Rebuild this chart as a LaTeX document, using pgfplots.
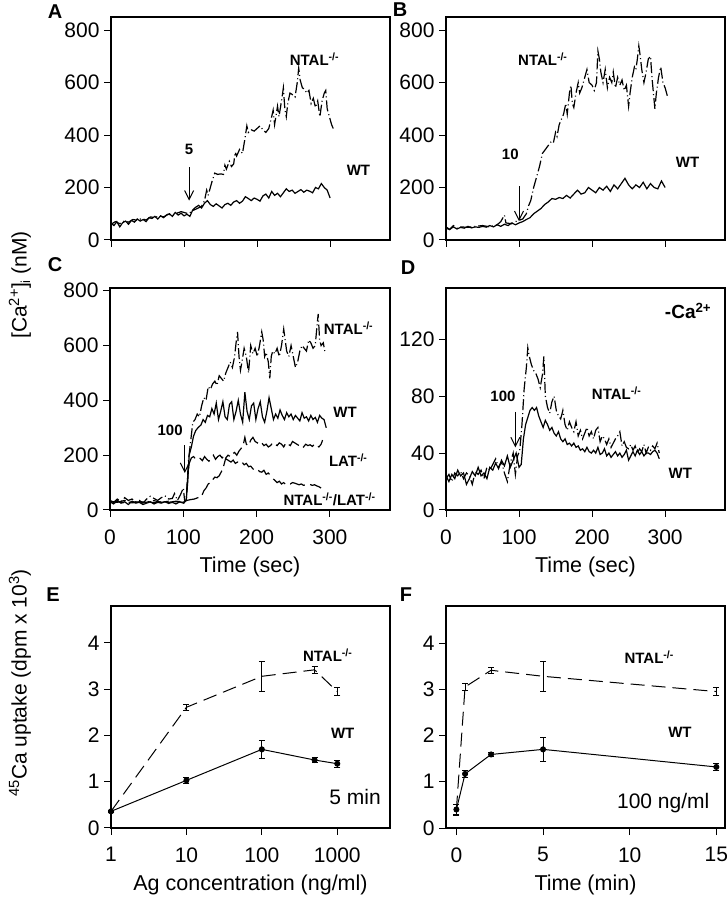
\documentclass[border=0pt]{standalone}
\usepackage{fontspec}
\setmainfont{Liberation Sans}
\usepackage{pgfplots}
\pgfplotsset{compat=1.18}
\usetikzlibrary{arrows.meta}

\pgfplotsset{
  panel/.style={
    scale only axis, anchor=south west,
    width=279pt, height=222pt,
    axis line style={line width=1.2pt},
    every tick/.style={line width=1pt, black},
    tick align=outside, major tick length=7pt, minor tick length=0pt,
    xtick pos=bottom, ytick pos=left,
    ticklabel style={font=\fontsize{21}{24}\selectfont},
    xticklabel style={yshift=-9pt},
    yticklabel style={xshift=-1pt},
    label style={font=\fontsize{21.5}{25}\selectfont},
    xlabel style={yshift=-6pt},
    /pgf/number format/assume math mode=true,
    clip=false,
  },
  wt/.style={black, line width=1.2pt, solid},
  ko/.style={black, line width=1.2pt, dash pattern=on 11pt off 3pt on 1pt off 3pt},
}
\newcommand{\lbl}{\bfseries\fontsize{15}{18}\selectfont}
\newcommand{\ko}{NTAL\textsuperscript{-/-}}

\begin{document}
\begin{tikzpicture}[x=1pt,y=1pt]
\useasboundingbox (0,0) rectangle (726,899);

% ---------- A ----------
\begin{axis}[panel, at={(111pt,659pt)}, height=223pt,
  xmin=0, xmax=382, ymin=0, ymax=850,
  xtick={0,100,200,300}, xticklabels={}, ytick={0,200,...,800}]
\addplot[ko] coordinates {
(0,60) (6,70) (12,62) (18,72) (24,68) (30,78) (36,75) (42,82) (48,76) (54,88) (60,85) (66,92)
(72,88) (78,98) (84,95) (90,102) (96,108) (100,105) (106,100) (112,112) (118,120) (124,128)
(128,150) (131,190) (133,170) (138,220) (142,255) (146,250) (150,252) (154,250) (156,285)
(158,270) (162,300) (165,280) (168,290) (170,335) (172,320) (176,345) (180,330) (183,380)
(186,435) (188,410) (192,420) (196,415) (200,425) (204,435) (208,420) (212,410) (216,425)
(220,470) (222,495) (224,440) (228,510) (230,470) (234,540) (236,580) (238,500) (240,470)
(242,520) (245,560) (248,555) (252,545) (255,600) (257,655) (259,610) (262,580) (265,575)
(268,560) (271,570) (274,520) (277,540) (280,505) (283,530) (286,470) (289,530) (292,560)
(294,570) (296,500) (298,480) (302,440) (305,420)};
\addplot[wt] coordinates {
(0,64) (4,55) (8,70) (12,50) (16,66) (20,72) (24,60) (28,75) (32,68) (36,80) (40,72) (44,78)
(48,70) (52,85) (56,82) (60,90) (64,80) (68,92) (72,85) (76,95) (80,100) (84,90) (88,105)
(92,95) (96,102) (100,92) (104,98) (108,90) (112,115) (116,125) (120,132) (124,122) (128,140)
(132,150) (136,135) (140,128) (144,138) (148,130) (152,122) (156,135) (160,140) (164,132)
(168,145) (172,150) (176,140) (180,148) (184,165) (188,158) (192,150) (196,160) (200,155)
(204,148) (208,168) (212,175) (216,160) (220,185) (224,170) (228,178) (232,165) (236,180)
(240,195) (244,185) (248,190) (252,178) (256,185) (260,192) (264,182) (268,190) (272,186)
(276,180) (280,200) (284,195) (288,215) (292,200) (296,190) (300,160)};
\draw[line width=1pt, -{Straight Barb[length=9pt,width=9pt]}] (axis cs:107,278) -- (axis cs:107,150);
\node[font=\lbl] at (axis cs:107,345) {5};
\node[font=\lbl, anchor=west] at (axis cs:240,690) {\ko};
\node[font=\lbl, anchor=west] at (axis cs:318,267) {WT};
\end{axis}

% ---------- B ----------
\begin{axis}[panel, at={(446pt,659pt)}, height=223pt,
  xmin=0, xmax=382, ymin=0, ymax=850,
  xtick={0,100,200,300}, xticklabels={}, ytick={0,200,...,800}]
\addplot[ko] coordinates {
(0,50) (5,40) (10,55) (15,45) (20,50) (30,48) (40,52) (50,55) (60,50) (70,58) (75,70) (80,95)
(82,65) (90,62) (95,70) (100,75) (105,80) (110,100) (113,130) (116,150) (120,200) (124,240)
(128,280) (132,330) (136,345) (140,360) (144,375) (147,370) (150,410) (152,395) (155,440)
(158,460) (161,480) (164,520) (166,480) (169,560) (171,590) (173,520) (175,505) (178,560)
(181,600) (183,560) (186,580) (190,620) (193,650) (196,600) (200,590) (203,570) (206,600)
(208,720) (210,690) (212,640) (215,600) (218,650) (221,580) (224,620) (227,600) (229,640)
(232,580) (235,620) (238,590) (241,610) (244,570) (247,590) (250,510) (252,560) (255,620)
(258,660) (260,650) (262,690) (264,740) (266,700) (268,650) (271,600) (274,640) (277,690)
(280,700) (282,620) (284,560) (286,500) (288,560) (291,620) (294,660) (297,600) (300,580) (303,550)};
\addplot[wt] coordinates {
(0,45) (5,40) (10,50) (15,42) (20,48) (25,45) (30,52) (35,46) (40,50) (45,48) (50,52) (55,49)
(60,55) (65,50) (70,58) (75,52) (80,60) (85,55) (90,65) (95,58) (100,65) (105,70) (110,78)
(115,85) (120,100) (125,110) (130,120) (135,135) (140,145) (145,158) (150,155) (155,162)
(160,158) (165,170) (170,160) (175,175) (180,190) (185,175) (190,180) (195,200) (200,190)
(205,180) (210,200) (215,190) (220,205) (225,185) (230,210) (235,195) (240,215) (245,235)
(250,210) (255,195) (260,210) (265,200) (270,220) (275,195) (280,215) (285,200) (290,195)
(295,225) (300,200)};
\draw[line width=1pt, -{Straight Barb[length=9pt,width=9pt]}] (axis cs:100,205) -- (axis cs:100,72);
\node[font=\lbl] at (axis cs:88,325) {10};
\node[font=\lbl, anchor=west] at (axis cs:94,690) {\ko};
\node[font=\lbl, anchor=west] at (axis cs:310,295) {WT};
\end{axis}

% ---------- C ----------
\begin{axis}[panel, at={(110pt,389pt)}, width=280pt,
  xmin=0, xmax=382, ymin=0, ymax=810,
  xtick={0,100,200,300}, ytick={0,200,...,800},
  xlabel={Time (sec)}]
\addplot[ko] coordinates {
(0,35) (5,28) (10,40) (15,30) (20,45) (25,35) (30,40) (35,30) (40,35) (45,25) (50,40) (55,50)
(60,42) (65,35) (70,45) (75,52) (80,40) (85,42) (88,60) (92,35) (96,55) (100,80) (102,30)
(104,40) (107,180) (110,250) (113,320) (116,330) (119,350) (122,340) (125,380) (128,410)
(131,400) (134,450) (137,440) (140,460) (143,470) (146,455) (149,490) (152,480) (155,470)
(158,500) (161,520) (164,540) (167,520) (170,560) (172,610) (174,650) (176,560) (178,510)
(180,540) (183,590) (186,560) (189,500) (192,600) (195,570) (198,590) (201,560) (204,600)
(207,650) (209,620) (211,560) (213,575) (216,540) (218,480) (220,560) (222,580) (225,570)
(228,590) (231,560) (234,600) (237,660) (239,620) (241,580) (244,560) (247,600) (250,560)
(253,520) (256,540) (259,580) (262,600) (265,590) (268,580) (271,620) (274,610) (277,590)
(280,600) (282,660) (284,715) (286,620) (288,600) (291,610) (293,580)};
\addplot[ko, dash pattern=on 14pt off 5pt] coordinates {
(0,28) (10,32) (20,25) (30,30) (40,28) (50,32) (60,26) (70,30) (80,28) (90,32) (100,30)
(105,35) (110,38) (115,40) (120,45) (125,50) (128,70) (131,80) (134,95) (137,100) (140,110)
(143,120) (146,118) (149,125) (152,140) (155,160) (158,190) (161,200) (164,195) (167,205)
(170,210) (173,200) (176,215) (179,225) (182,240) (184,265) (186,240) (189,235) (192,255)
(195,265) (198,250) (201,245) (204,240) (207,245) (210,235) (213,240) (216,230) (219,235)
(222,245) (225,240) (228,235) (231,245) (234,240) (237,230) (240,245) (243,240) (246,235)
(249,250) (252,245) (255,240) (258,235) (261,238) (264,230) (267,240) (270,235) (273,238)
(276,232) (279,240) (282,235) (285,230) (288,240) (290,255)};
\addplot[ko, dash pattern=on 16pt off 6pt] coordinates {
(0,32) (10,28) (20,35) (30,26) (40,30) (50,28) (60,34) (70,28) (80,32) (90,30) (100,28)
(104,35) (106,120) (108,170) (111,190) (114,195) (117,185) (120,192) (123,188) (126,180)
(129,195) (132,185) (135,178) (138,190) (141,200) (144,185) (147,195) (150,200) (153,190)
(156,200) (159,185) (162,180) (165,175) (168,182) (171,170) (174,175) (177,168) (180,175)
(183,165) (186,170) (189,158) (192,160) (195,150) (198,145) (201,150) (204,140) (207,138)
(210,145) (213,130) (216,135) (219,125) (222,115) (225,108) (228,100) (231,105) (234,95)
(237,100) (240,92) (243,98) (246,95) (249,100) (252,98) (255,95) (258,92) (261,95) (264,90)
(267,92) (270,88) (273,93) (276,90) (279,92) (282,88) (285,85) (288,80)};
\addplot[wt] coordinates {
(0,30) (5,22) (10,35) (15,25) (20,30) (25,20) (30,32) (35,25) (40,28) (45,20) (50,25) (55,30)
(60,22) (65,28) (70,25) (75,30) (80,24) (85,28) (90,22) (95,30) (100,25) (104,35) (106,100)
(108,200) (111,230) (114,270) (117,290) (120,300) (124,310) (127,330) (130,320) (133,345)
(136,340) (139,370) (142,350) (145,390) (148,330) (151,360) (154,395) (157,340) (160,330)
(163,385) (166,395) (169,330) (172,360) (175,400) (178,350) (181,320) (184,430) (187,360)
(190,330) (193,380) (196,390) (199,330) (202,370) (205,395) (208,340) (211,320) (214,360)
(217,410) (220,370) (223,330) (226,350) (229,335) (232,365) (235,345) (238,330) (241,355)
(244,340) (247,350) (250,330) (253,345) (256,335) (259,325) (262,355) (265,335) (268,340)
(271,325) (274,345) (277,330) (280,338) (283,320) (286,345) (289,335) (292,330) (295,300)};
\draw[line width=1pt, -{Straight Barb[length=9pt,width=9pt]}] (axis cs:102,237) -- (axis cs:102,135);
\node[font=\lbl] at (axis cs:82,292) {100};
\node[font=\lbl, anchor=west] at (axis cs:287,664) {\ko};
\node[font=\lbl, anchor=west] at (axis cs:300,357) {WT};
\node[font=\lbl, anchor=west] at (axis cs:294,182) {LAT\textsuperscript{-/-}};
\node[font=\lbl, anchor=west] at (axis cs:232,40) {\ko/LAT\textsuperscript{-/-}};
\end{axis}

% ---------- D ----------
\begin{axis}[panel, at={(446pt,389pt)},
  xmin=0, xmax=382, ymin=0, ymax=156,
  xtick={0,100,200,300}, ytick={0,40,80,120},
  xlabel={Time (sec)}]
\addplot[ko] coordinates {
(0,22) (4,25) (8,20) (12,26) (16,24) (20,27) (24,22) (28,26) (32,24) (36,18) (40,27) (44,25)
(48,28) (52,22) (56,30) (60,28) (64,32) (68,36) (72,30) (76,34) (80,26) (84,20) (88,33) (92,40)
(95,25) (98,38) (101,42) (104,60) (107,85) (110,100) (112,114) (114,108) (117,102) (120,98)
(123,96) (126,92) (129,86) (132,95) (134,108) (136,80) (139,72) (142,68) (145,76) (148,80)
(151,70) (154,66) (157,64) (160,70) (163,60) (166,56) (169,62) (172,58) (175,55) (178,62)
(181,52) (184,56) (187,50) (190,54) (193,58) (196,52) (199,55) (202,50) (205,56) (208,58)
(211,48) (214,52) (217,50) (220,46) (223,50) (226,44) (229,47) (232,50) (235,52) (238,55)
(241,45) (244,48) (247,44) (250,43) (253,46) (256,42) (259,45) (262,40) (265,43) (268,41)
(271,46) (274,40) (277,44) (280,42) (283,45) (286,43) (289,47) (292,40)};
\addplot[wt] coordinates {
(0,24) (4,20) (8,25) (12,22) (16,28) (20,24) (24,26) (28,18) (32,22) (36,27) (40,24) (44,30)
(48,24) (52,26) (56,22) (60,30) (64,28) (68,33) (72,29) (76,35) (80,31) (84,38) (88,30) (92,35)
(96,40) (100,30) (103,32) (106,50) (109,60) (112,65) (115,70) (118,72) (121,70) (124,72)
(127,66) (130,62) (133,58) (136,63) (139,60) (142,56) (145,58) (148,54) (151,52) (154,55)
(157,50) (160,48) (163,50) (166,46) (169,47) (172,45) (175,47) (178,44) (181,45) (184,42)
(187,43) (190,41) (193,44) (196,41) (199,40) (202,42) (205,40) (208,44) (211,39) (214,40)
(217,43) (220,38) (223,40) (226,37) (229,39) (232,41) (235,38) (238,40) (241,37) (244,39)
(247,42) (250,35) (253,38) (256,41) (259,38) (262,42) (265,39) (268,41) (271,38) (274,40)
(277,40) (280,39) (283,41) (286,42) (289,40) (292,36)};
\draw[line width=1pt, -{Straight Barb[length=9pt,width=9pt]}] (axis cs:95,69) -- (axis cs:95,44);
\node[font=\lbl] at (axis cs:78,80) {100};
\node[font=\lbl, anchor=west] at (axis cs:195,82) {\ko};
\node[font=\lbl, anchor=west] at (axis cs:300,26) {WT};
\node[font=\bfseries\fontsize{19}{22}\selectfont, anchor=east] at (axis cs:368,140) {-Ca\textsuperscript{2+}};
\end{axis}

% ---------- E ----------
\begin{axis}[panel, at={(111pt,71pt)},
  xmode=log, xmin=1, xmax=5000, ymin=0, ymax=4.8,
  xtick={1,10,100,1000}, xticklabels={1,10,100,1000}, minor xtick={},
  ytick={0,1,2,3,4},
  xlabel={Ag concentration (ng/ml)},
  error bars/error bar style={solid, line width=0.8pt},
  error bars/error mark options={rotate=90, mark size=3pt, solid, line width=0.8pt}]
\addplot[black, line width=1pt, dash pattern=on 14pt off 7pt, mark=none,
  error bars/.cd, y dir=both, y explicit] coordinates {
(1,0.36) +- (0,0.03) (10,2.61) +- (0,0.07) (100,3.28) +- (0,0.33)
(500,3.42) +- (0,0.07) (1000,2.95) +- (0,0.08)};
\addplot[black, line width=1pt, solid, mark=*, mark size=2.5pt,
  error bars/.cd, y dir=both, y explicit] coordinates {
(1,0.36) +- (0,0.03) (10,1.03) +- (0,0.06) (100,1.70) +- (0,0.2)
(500,1.47) +- (0,0.05) (1000,1.39) +- (0,0.08)};
\node[font=\lbl, anchor=west] at (axis cs:316,3.74) {\ko};
\node[font=\lbl] at (axis cs:1180,2.05) {WT};
\node[font=\fontsize{21}{24}\selectfont, anchor=east] at (axis cs:4200,0.67) {5 min};
\end{axis}

% ---------- F ----------
\begin{axis}[panel, at={(446pt,71pt)},
  xmin=-0.6, xmax=15.5, ymin=0, ymax=4.8,
  xtick={0,5,10,15}, ytick={0,1,2,3,4},
  xlabel={Time (min)},
  error bars/error bar style={solid, line width=0.8pt},
  error bars/error mark options={rotate=90, mark size=3pt, solid, line width=0.8pt}]
\addplot[black, line width=1pt, dash pattern=on 14pt off 7pt, mark=none,
  error bars/.cd, y dir=both, y explicit] coordinates {
(0,0.40) +- (0,0.12) (0.5,3.05) +- (0,0.07) (2,3.41) +- (0,0.07)
(5,3.28) +- (0,0.33) (15,2.95) +- (0,0.09)};
\addplot[black, line width=1pt, solid, mark=*, mark size=2.5pt,
  error bars/.cd, y dir=both, y explicit] coordinates {
(0,0.40) +- (0,0.1) (0.5,1.17) +- (0,0.08) (2,1.59) +- (0,0.04)
(5,1.70) +- (0,0.25) (15,1.32) +- (0,0.07)};
\node[font=\lbl, anchor=west] at (axis cs:9.5,3.69) {\ko};
\node[font=\lbl] at (axis cs:12.9,2.07) {WT};
\node[font=\fontsize{21}{24}\selectfont, anchor=east] at (axis cs:14.8,0.54) {100 ng/ml};
\end{axis}

% panel letters and shared y labels
\node[font=\bfseries\fontsize{20}{24}\selectfont] at (55,887) {A};
\node[font=\bfseries\fontsize{20}{24}\selectfont] at (400,889) {B};
\node[font=\bfseries\fontsize{20}{24}\selectfont] at (55,634) {C};
\node[font=\bfseries\fontsize{20}{24}\selectfont] at (408,631) {D};
\node[font=\bfseries\fontsize{20}{24}\selectfont] at (53,304) {E};
\node[font=\bfseries\fontsize{20}{24}\selectfont] at (406,304) {F};
\node[rotate=90, font=\fontsize{21}{24}\selectfont] at (20,614)
  {[Ca\textsuperscript{2+}]\raisebox{-0.3ex}{\fontsize{13}{15}\selectfont i} (nM)};
\node[rotate=90, font=\fontsize{21}{24}\selectfont] at (20,216)
  {\textsuperscript{45}Ca uptake (dpm x 10\textsuperscript{3})};
\end{tikzpicture}
\end{document}
